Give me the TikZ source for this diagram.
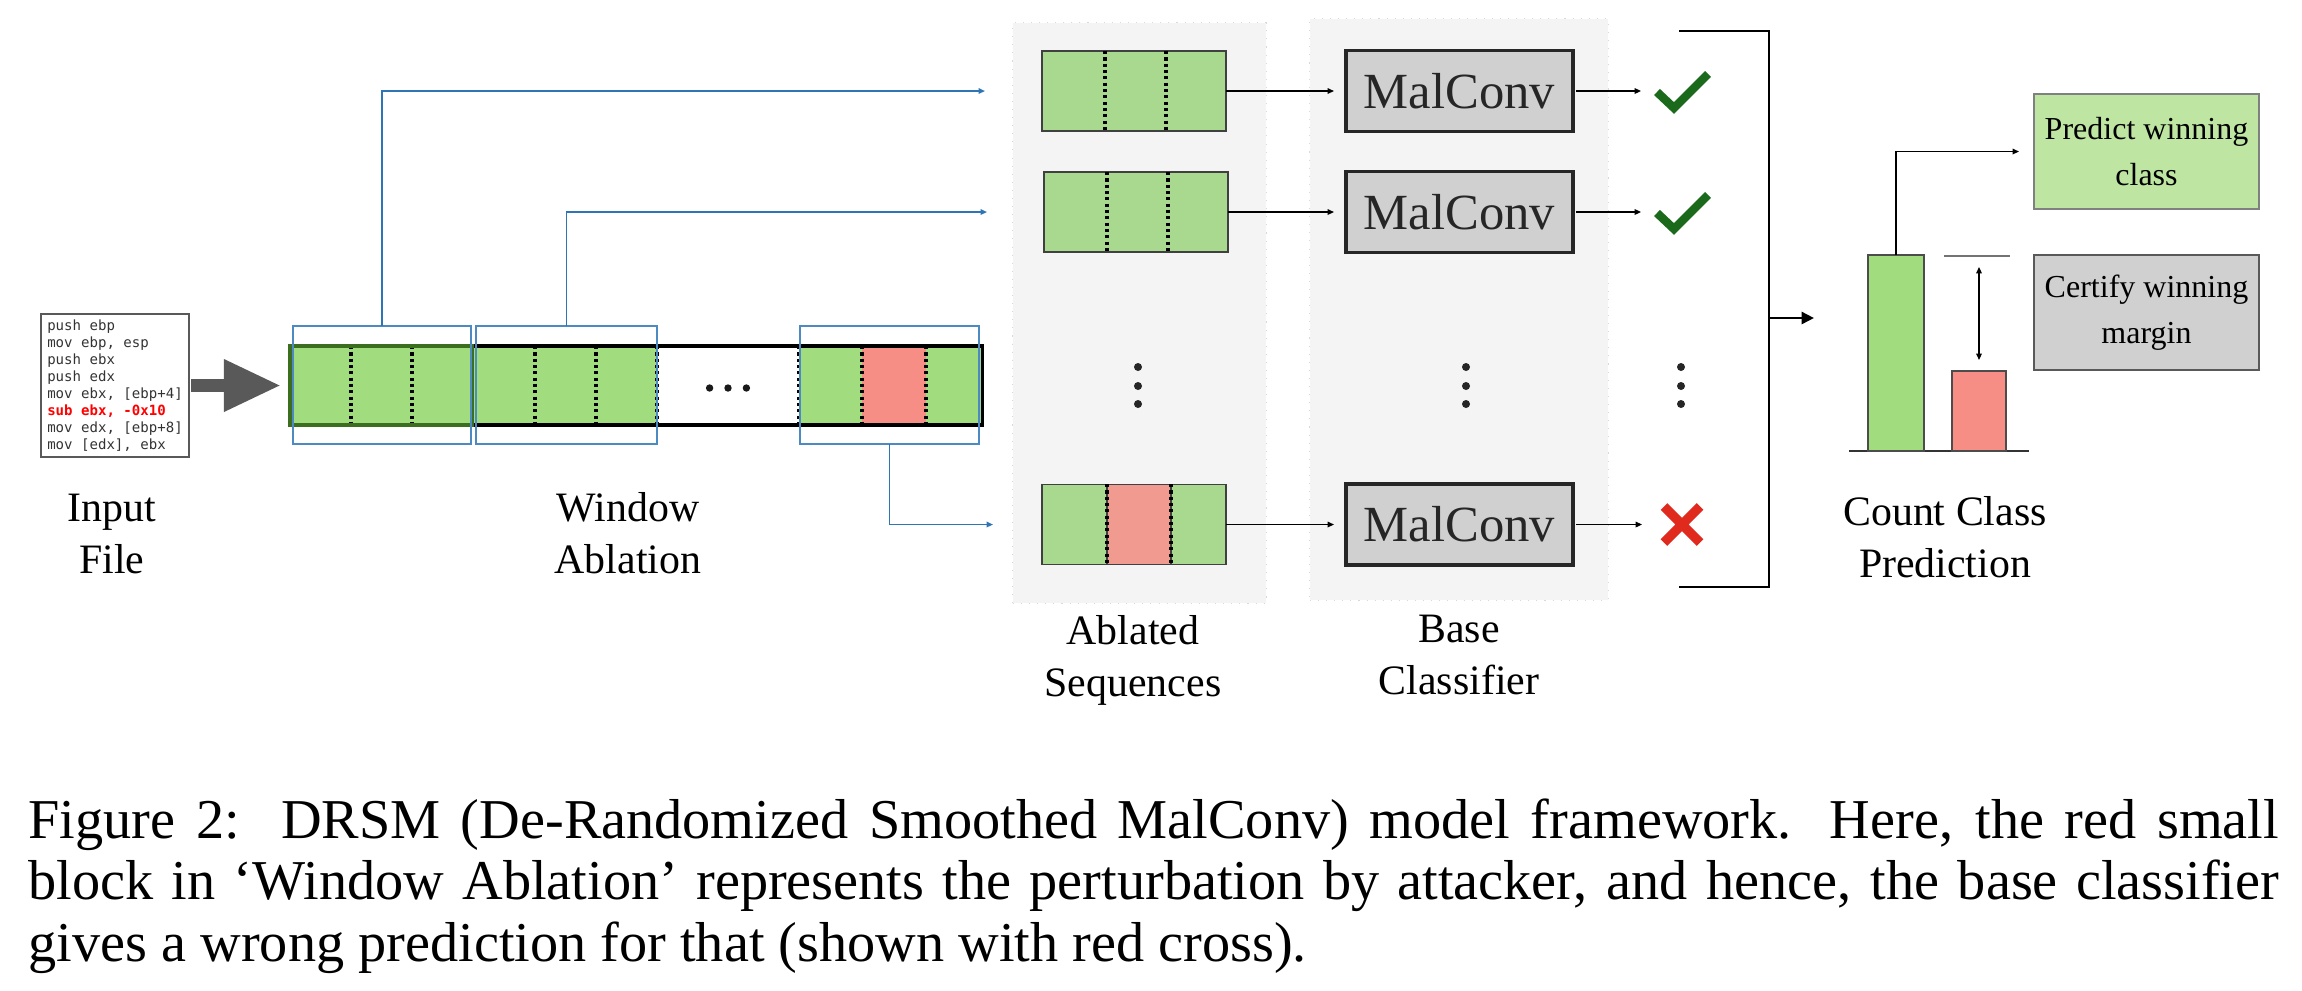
\documentclass[tikz,border=0pt]{standalone}
\usepackage{fontspec}
\setmainfont{Liberation Serif}
\newfontfamily\timesfont{Liberation Serif}
\newfontfamily\codefont{DejaVu Sans Mono}
\usepackage{tikz}
\usetikzlibrary{positioning}
\usetikzlibrary{arrows.meta}
\definecolor{cellgreen}{HTML}{A1DC7F}
\definecolor{seqgreen}{HTML}{A9D98F}
\definecolor{cellred}{HTML}{F68E85}
\definecolor{seqred}{HTML}{F09A90}
\definecolor{winblue}{HTML}{2E75B6}
\definecolor{darkgreen}{HTML}{3C6E1F}
\definecolor{tickgreen}{HTML}{1B6A1B}
\definecolor{crossred}{HTML}{E02A1D}
\definecolor{boxgray}{HTML}{D0D0D0}
\definecolor{panelgray}{HTML}{F4F4F4}
\definecolor{predgreen}{HTML}{BEE6A2}
\definecolor{arrowgray}{HTML}{595959}
\tikzset{
  cell/.style={rectangle, inner sep=0pt, outer sep=0pt, minimum height=0.79cm},
  window/.style={draw=winblue!85, line width=0.4pt, minimum width=1.79cm, minimum height=1.18cm, inner sep=0pt, outer sep=0pt},
  seq/.style={draw=black!75, line width=0.45pt, fill=seqgreen, minimum width=1.84cm, minimum height=0.8cm, inner sep=0pt, outer sep=0pt},
  sep/.style={black, line width=1pt, dash pattern=on 0.9pt off 0.9pt},
  malconv/.style={draw=black!85, line width=0.95pt, fill=boxgray, minimum width=2.27cm, minimum height=0.81cm, inner sep=0pt, outer sep=0pt, text=black!85, font=\timesfont\fontsize{14.4}{17}\selectfont},
  panel/.style={fill=panelgray, draw=black!15, dotted, line width=0.3pt, inner sep=0pt, outer sep=0pt},
  lbl/.style={align=center, inner sep=0pt, font=\timesfont\fontsize{11.9}{14.8}\selectfont},
  flow/.style={->, line width=0.35pt},
  blueflow/.style={->, line width=0.4pt, winblue},
  markbox/.style={minimum width=0.57cm, minimum height=0.44cm, inner sep=0pt, outer sep=0pt},
  okmark/.style={tickgreen, line width=2.4pt},
  badmark/.style={crossred, line width=2.7pt},
  countbar/.style={draw=black!70, line width=0.4pt, inner sep=0pt, outer sep=0pt},
  decision/.style={minimum width=2.25cm, minimum height=1.15cm, inner sep=0pt, outer sep=0pt, align=center, line width=0.45pt, font=\timesfont\fontsize{9.1}{13}\selectfont}
}
\begin{document}
\begin{tikzpicture}[x=0.01cm, y=-0.01cm, >={Triangle[length=1.8pt,width=1.6pt]}]
\useasboundingbox (0,0) rectangle (2302,990);

\node[draw=arrowgray, line width=0.45pt, minimum width=1.48cm, minimum height=1.43cm, inner sep=0pt, outer sep=0pt, align=left, text=black!80, font=\codefont\fontsize{4}{4.84}\selectfont] (input) at (115,385.5)
  {push ebp\\mov ebp, esp\\push ebx\\push edx\\mov ebx, [ebp+4]\\{\color{red}\bfseries sub ebx, -0x10}\\mov edx, [ebp+8]\\mov [edx], ebx};
\node[lbl, anchor=north] (inlbl) at (112,493) {Input\\File};

\node[cell, fill=cellgreen, minimum width=1.82cm] (w1) at (381,385.5) {};
\node[cell, fill=cellgreen, minimum width=1.85cm, right=0pt of w1] (w2) {};
\node[cell, fill=white, minimum width=1.42cm, right=0pt of w2] (gap) {};
\node[cell, fill=cellgreen, minimum width=1.83cm, right=0pt of gap] (w3) {};
\node[cell, fill=cellred, minimum width=0.64cm] (hit) at (894,385.5) {};
\fill[black!90] (709.6,388) circle[radius=0.037cm] (728,388) circle[radius=0.037cm] (746.4,388) circle[radius=0.037cm];
\draw[sep] (351,346) -- (351,425);
\draw[sep] (412,346) -- (412,425);
\draw[sep] (535,346) -- (535,425);
\draw[sep] (596,346) -- (596,425);
\draw[sep] (657,346) -- (657,425);
\draw[sep] (799,346) -- (799,425);
\draw[sep] (862,346) -- (862,425);
\draw[sep] (926,346) -- (926,425);
\draw[line width=0.5pt] (w1.north east) -- (w1.south east);
\draw[line width=1pt] (w1.north west) rectangle (w3.south east);
\draw[darkgreen, line width=0.9pt] (w1.north west) rectangle (w1.south east);
\node[window, minimum width=1.78cm] (win1) at (382,385) {};
\node[window, minimum width=1.81cm] (win2) at (566.5,385) {};
\node[window] (win3) at (889.5,385) {};
\node[lbl, anchor=north] (winlbl) at (628,492) {Window\\Ablation};

\draw[arrowgray, line width=3.7pt, -{Triangle[length=16.2pt,width=13.9pt]}, shorten <=0.02cm, shorten >=0.09cm] (input) -- (w1);

\node[panel, minimum width=2.53cm, minimum height=5.8cm] (pan1) at (1139.5,313) {};
\node[panel, minimum width=2.98cm, minimum height=5.81cm] (pan2) at (1459,309.5) {};
\node[lbl, anchor=north] (seqlbl) at (1133,615) {Ablated\\Sequences};
\node[lbl, anchor=north] (baselbl) at (1459,614) {Base\\Classifier};

\node[seq] (seq1) at (1134,91) {};
\node[seq] (seq2) at (1136,212) {};
\node[seq] (seq3) at (1134,524.5) {};
\node[seq, fill=seqred, minimum width=0.64cm] (seqhit) at (1139,524.5) {};
\draw[sep] (1105,51) -- (1105,131);
\draw[sep] (1166,51) -- (1166,131);
\draw[sep] (1107,172) -- (1107,252);
\draw[sep] (1168,172) -- (1168,252);
\draw[sep] (1107,484) -- (1107,565);
\draw[sep] (1171,484) -- (1171,565);

\draw[blueflow, shorten >=0.57cm] (win1.north) |- (seq1.west);
\draw[blueflow, shorten >=0.57cm] (win2.north) |- (seq2.west);
\draw[blueflow, shorten >=0.49cm] (win3.south) |- (seq3.west);

\node[malconv] (mal1) at (1459.5,91) {MalConv};
\node[malconv] (mal2) at (1459.5,212) {MalConv};
\node[malconv] (mal3) at (1459.5,524.5) {MalConv};
\draw[flow, shorten >=0.12cm] (seq1) -- (mal1);
\draw[flow, shorten >=0.12cm] (seq2) -- (mal2);
\draw[flow, shorten >=0.12cm] (seq3) -- (mal3);

\node[markbox] (ok1) at (1683,91) {};
\node[markbox] (ok2) at (1683,212) {};
\node[markbox, minimum width=0.44cm] (bad3) at (1682,524.5) {};
\draw[flow, shorten <=0.03cm, shorten >=0.135cm] (mal1) -- (ok1);
\draw[flow, shorten <=0.03cm, shorten >=0.135cm] (mal2) -- (ok2);
\draw[flow, shorten <=0.03cm, shorten >=0.18cm] (mal3) -- (bad3);
\draw[okmark] ([shift={(-26,1)}]ok1.center) -- ++(17,16) -- ++(34,-34);
\draw[okmark] ([shift={(-26,1)}]ok2.center) -- ++(17,16) -- ++(34,-34);
\draw[badmark] ([shift={(-18,-18)}]bad3.center) -- ++(36,36) ([shift={(-18,18)}]bad3.center) -- ++(36,-36);

\fill[black!85] (1138,367) circle[radius=0.04cm] (1138,386) circle[radius=0.04cm] (1138,404) circle[radius=0.04cm];
\fill[black!85] (1466,367) circle[radius=0.04cm] (1466,386) circle[radius=0.04cm] (1466,404) circle[radius=0.04cm];
\fill[black!85] (1681,367) circle[radius=0.04cm] (1681,386) circle[radius=0.04cm] (1681,404) circle[radius=0.04cm];

\draw[line width=0.65pt] (1679,31) -- (1769,31) -- (1769,587) -- (1679,587);
\coordinate (join) at (1769,318);
\coordinate (vote) at (1814,318);
\draw[line width=0.7pt, -{Triangle[length=3.5pt,width=3.4pt]}] (join) -- (vote);

\draw[black!80, line width=0.4pt] (1849,451) -- (2029,451);
\node[countbar, fill=cellgreen, minimum width=0.56cm, minimum height=1.96cm, anchor=south] (gbar) at (1896,451) {};
\node[countbar, fill=cellred, minimum width=0.54cm, minimum height=0.8cm, anchor=south] (rbar) at (1979,451) {};
\draw[black!55, line width=0.4pt] (1944,256) -- (2010,256);
\coordinate (lead) at (1979,256);
\draw[flow, <->, shorten <=0.11cm, shorten >=0.11cm] (lead) -- (rbar.north);

\node[decision, fill=predgreen, draw=black!50] (pred) at (2146.5,151.5) {Predict winning\\class};
\node[decision, fill=boxgray, draw=black!65] (cert) at (2146.5,312.5) {Certify winning\\margin};
\draw[flow, shorten >=0.15cm] (gbar.north) |- (pred.west);
\node[lbl, anchor=north] (cntlbl) at (1945,496) {Count Class\\Prediction};

\node[anchor=north west, text width=22.49cm, align=justify, inner sep=0pt, font=\timesfont\fontsize{16}{17.5}\selectfont] (caption) at (28,798)
  {Figure 2:\ \ DRSM (De-Randomized Smoothed MalConv) model framework.  Here, the red small\linebreak
   block in ‘Window Ablation’ represents the perturbation by attacker, and hence, the base classifier\linebreak
   gives a wrong prediction for that (shown with red cross).};
\end{tikzpicture}
\end{document}
